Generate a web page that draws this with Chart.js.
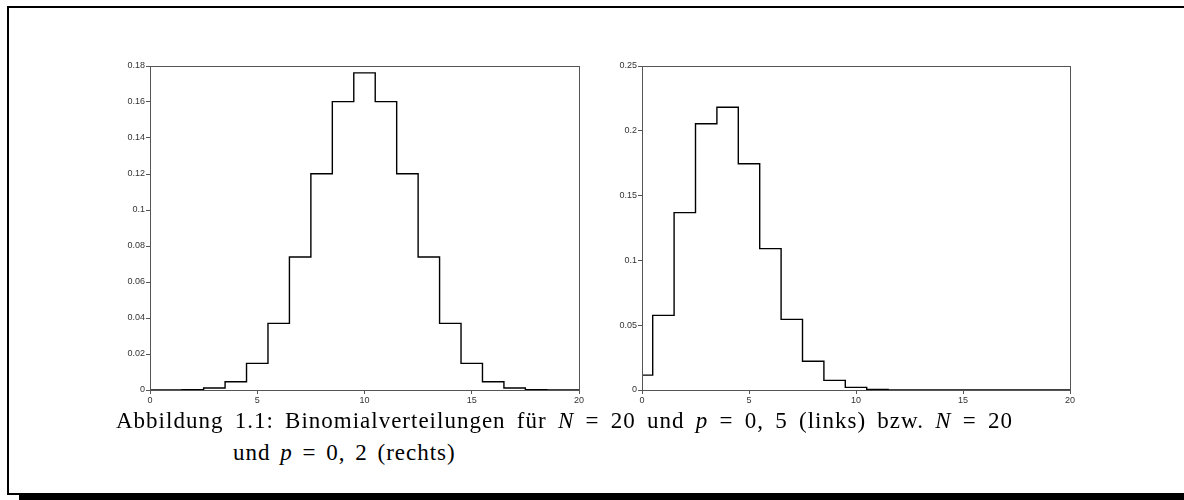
<!DOCTYPE html>
<html>
<head>
<meta charset="utf-8">
<script src="https://cdn.jsdelivr.net/npm/chart.js@4"></script>
<style>
  body { margin: 0; background: #fff; }
  #page { position: relative; width: 1184px; height: 500px; overflow: hidden; }
  .frame { position: absolute; left: 7px; top: 6px; width: 1175px; height: 487px;
           border-top: 2px solid #000; border-left: 2px solid #000; }
  .bottomline { position: absolute; left: 7px; top: 493px; width: 1177px; height: 2px; background: #000; }
  .shadow { position: absolute; left: 19px; top: 493px; width: 1165px; height: 7px; background: #000; }
  .chart { position: absolute; top: 56px; width: 480px; height: 360px; }
  .caption { position: absolute; font-family: "Liberation Serif", serif; font-size: 23px;
             line-height: 23px; color: #000; white-space: nowrap; letter-spacing: 1px; }
  #cap1 { left: 116px; top: 409px; width: 897px; text-align: justify; text-align-last: justify; }
  #cap2 { left: 233px; top: 441px; word-spacing: 3px; }
  .caption i { font-style: italic; }
</style>
</head>
<body>
<div id="page">
  <div class="frame"></div>
  <div class="bottomline"></div>
  <div class="shadow"></div>
  <div class="chart" style="left:110px"><canvas id="leftChart" width="480" height="360"></canvas></div>
  <div class="chart" style="left:602px"><canvas id="rightChart" width="480" height="360"></canvas></div>
  <div class="caption" id="cap1">Abbildung 1.1: Binomialverteilungen für <i>N</i> = 20 und <i>p</i> = 0, 5 (links) bzw. <i>N</i> = 20</div>
  <div class="caption" id="cap2">und <i>p</i> = 0, 2 (rechts)</div>
</div>
<script>
const leftChart = document.getElementById("leftChart");
const rightChart = document.getElementById("rightChart");

// k = 0 .. 20
const kValues = [0, 1, 2, 3, 4, 5, 6, 7, 8, 9, 10, 11, 12, 13, 14, 15, 16, 17, 18, 19, 20];

// N = 20, p = 0.5 (links)
const probLeft = [
  0, 0, 0.0002, 0.0011, 0.0046, 0.0148, 0.037, 0.0739, 0.1201, 0.1602, 0.1762,
  0.1602, 0.1201, 0.0739, 0.037, 0.0148, 0.0046, 0.0011, 0.0002, 0, 0,
];

// N = 20, p = 0.2 (rechts)
const probRight = [
  0.0115, 0.0576, 0.1369, 0.2054, 0.2182, 0.1746, 0.1091, 0.0545, 0.0222, 0.0074,
  0.002, 0.0005, 0.0001, 0, 0, 0, 0, 0, 0, 0, 0,
];

const xTicks = [0, 5, 10, 15, 20];
const yTicksLeft = [0, 0.02, 0.04, 0.06, 0.08, 0.1, 0.12, 0.14, 0.16, 0.18];
const yTicksRight = [0, 0.05, 0.1, 0.15, 0.2, 0.25];

// draws the top and right edge of the plot box
const boxPlugin = {
  id: "plotBox",
  afterDraw(chart) {
    const { ctx, chartArea } = chart;
    ctx.save();
    ctx.strokeStyle = "#555";
    ctx.lineWidth = 1;
    ctx.strokeRect(
      Math.round(chartArea.left) + 0.5,
      Math.round(chartArea.top) + 0.5,
      Math.round(chartArea.right - chartArea.left),
      Math.round(chartArea.bottom - chartArea.top),
    );
    ctx.restore();
  },
};

function renderHistogram(canvas, probs, yTicks, rightPad) {
  const points = kValues.map((k, i) => ({ x: k, y: probs[i] }));
  const tickFont = { family: "'Liberation Sans', Arial, sans-serif", size: 9 };

  new Chart(canvas, {
    type: "line",
    data: {
      datasets: [
        {
          data: points,
          stepped: "middle",
          borderColor: "#000",
          borderWidth: 1.4,
          pointRadius: 0,
          fill: false,
        },
      ],
    },
    plugins: [boxPlugin],
    options: {
      responsive: false,
      animation: false,
      events: [],
      layout: { padding: { top: 10, right: rightPad, bottom: 0, left: 0 } },
      plugins: {
        legend: { display: false },
        tooltip: { enabled: false },
      },
      scales: {
        x: {
          type: "linear",
          min: 0,
          max: 20,
          afterBuildTicks(scale) {
            scale.ticks = xTicks.map((v) => ({ value: v }));
          },
          afterFit(scale) {
            scale.height = 26;
          },
          ticks: {
            color: "#333",
            font: tickFont,
            padding: 1,
            maxRotation: 0,
            callback: (v) => String(v),
          },
          grid: { drawOnChartArea: false, tickLength: 4, color: "#555" },
          border: { display: true, color: "#555" },
        },
        y: {
          min: 0,
          max: yTicks[yTicks.length - 1],
          afterBuildTicks(scale) {
            scale.ticks = yTicks.map((v) => ({ value: v }));
          },
          afterFit(scale) {
            scale.width = 40;
          },
          ticks: {
            color: "#333",
            font: tickFont,
            padding: 1,
            callback: (v) => String(v),
          },
          grid: { drawOnChartArea: false, tickLength: 4, color: "#555" },
          border: { display: true, color: "#555" },
        },
      },
    },
  });
}

renderHistogram(leftChart, probLeft, yTicksLeft, 11);
renderHistogram(rightChart, probRight, yTicksRight, 12);
</script>
</body>
</html>
